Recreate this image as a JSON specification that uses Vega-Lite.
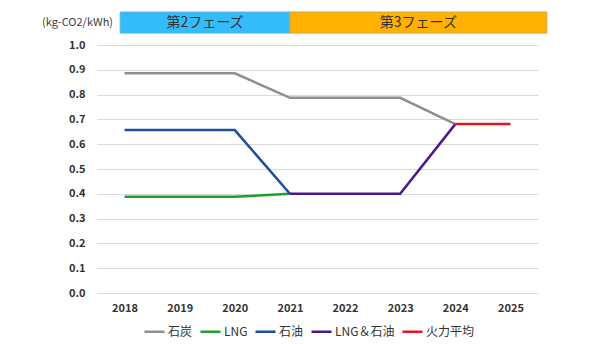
{
  "$schema": "https://vega.github.io/schema/vega-lite/v6.json",
  "width": 441,
  "height": 248,
  "autosize": {"type": "none"},
  "padding": {"left": 97, "top": 45, "right": 52, "bottom": 51},
  "background": "white",
  "config": {
    "view": {"stroke": null},
    "font": "Noto Sans CJK JP"
  },
  "datasets": {
    "lines": [
      {"year": 2018, "value": 0.886, "series": "石炭"},
      {"year": 2019, "value": 0.886, "series": "石炭"},
      {"year": 2020, "value": 0.886, "series": "石炭"},
      {"year": 2021, "value": 0.787, "series": "石炭"},
      {"year": 2022, "value": 0.787, "series": "石炭"},
      {"year": 2023, "value": 0.787, "series": "石炭"},
      {"year": 2024, "value": 0.681, "series": "石炭"},
      {"year": 2018, "value": 0.388, "series": "LNG"},
      {"year": 2019, "value": 0.388, "series": "LNG"},
      {"year": 2020, "value": 0.388, "series": "LNG"},
      {"year": 2021, "value": 0.400, "series": "LNG"},
      {"year": 2018, "value": 0.657, "series": "石油"},
      {"year": 2019, "value": 0.657, "series": "石油"},
      {"year": 2020, "value": 0.657, "series": "石油"},
      {"year": 2021, "value": 0.400, "series": "石油"},
      {"year": 2021, "value": 0.400, "series": "LNG＆石油"},
      {"year": 2022, "value": 0.400, "series": "LNG＆石油"},
      {"year": 2023, "value": 0.400, "series": "LNG＆石油"},
      {"year": 2024, "value": 0.681, "series": "LNG＆石油"},
      {"year": 2024, "value": 0.681, "series": "火力平均"},
      {"year": 2025, "value": 0.681, "series": "火力平均"}
    ],
    "phases": [
      {"phase": "第2フェーズ", "start": 2017.92, "end": 2021},
      {"phase": "第3フェーズ", "start": 2021, "end": 2025.66}
    ]
  },
  "layer": [
    {
      "data": {"name": "lines"},
      "mark": {"type": "line", "strokeWidth": 2.5, "clip": false},
      "encoding": {
        "x": {
          "field": "year",
          "type": "quantitative",
          "scale": {"domain": [2017.5, 2025.5], "nice": false, "zero": false},
          "axis": {
            "values": [2018, 2019, 2020, 2021, 2022, 2023, 2024, 2025],
            "tickCount": 8,
            "format": "d",
            "title": null,
            "grid": false,
            "domain": false,
            "ticks": false,
            "labelPadding": 9,
            "labelFontSize": 11,
            "labelFontWeight": "bold",
            "labelColor": "#333333"
          }
        },
        "y": {
          "field": "value",
          "type": "quantitative",
          "scale": {"domain": [0, 1], "nice": false},
          "axis": {
            "values": [0, 0.1, 0.2, 0.3, 0.4, 0.5, 0.6, 0.7, 0.8, 0.9, 1.0],
            "tickCount": 11,
            "labelOverlap": false,
            "format": ".1f",
            "title": "(kg-CO2/kWh)",
            "titleAngle": 0,
            "titleAlign": "center",
            "titleBaseline": "middle",
            "titleX": -20,
            "titleY": -23,
            "titleFontSize": 11,
            "titleFontWeight": "normal",
            "titleColor": "#404040",
            "grid": true,
            "gridColor": "#d9d9d9",
            "gridWidth": 1,
            "domain": false,
            "ticks": false,
            "labelPadding": 12,
            "labelFontSize": 11,
            "labelFontWeight": "bold",
            "labelColor": "#333333"
          }
        },
        "color": {
          "field": "series",
          "type": "nominal",
          "sort": ["石炭", "LNG", "石油", "LNG＆石油", "火力平均"],
          "scale": {
            "domain": ["石炭", "LNG", "石油", "LNG＆石油", "火力平均"],
            "range": ["#8f8f8f", "#1f9e2e", "#1f4e9f", "#4a1a8c", "#e8141c"]
          },
          "legend": {
            "title": null,
            "orient": "none",
            "direction": "horizontal",
            "legendX": 46,
            "legendY": 275,
            "symbolType": "stroke",
            "symbolSize": 400,
            "symbolStrokeWidth": 2.5,
            "labelFontSize": 12,
            "labelColor": "#333333",
            "labelOffset": 2,
            "columnPadding": 2
          }
        }
      }
    },
    {
      "data": {"name": "phases"},
      "mark": {"type": "rect", "clip": false, "strokeWidth": 1},
      "encoding": {
        "x": {"field": "start", "type": "quantitative"},
        "x2": {"field": "end"},
        "y": {"datum": 1.048},
        "y2": {"datum": 1.133},
        "fill": {
          "field": "phase",
          "type": "nominal",
          "scale": {"domain": ["第2フェーズ", "第3フェーズ"], "range": ["#33bbfa", "#ffb000"]},
          "legend": null
        },
        "stroke": {
          "field": "phase",
          "type": "nominal",
          "scale": {"domain": ["第2フェーズ", "第3フェーズ"], "range": ["#5cb8e6", "#d9a640"]},
          "legend": null
        }
      }
    },
    {
      "data": {"name": "phases"},
      "transform": [{"calculate": "(datum.start + datum.end) / 2", "as": "mid"}],
      "mark": {"type": "text", "clip": false, "fontSize": 14, "color": "#333333", "baseline": "middle"},
      "encoding": {
        "x": {"field": "mid", "type": "quantitative"},
        "y": {"datum": 1.09},
        "text": {"field": "phase"}
      }
    },
    {
      "mark": {"type": "rule", "color": "#999999", "strokeDash": [3, 3], "strokeWidth": 1, "clip": false},
      "encoding": {
        "x": {"datum": 2021},
        "y": {"datum": 0},
        "y2": {"datum": 1.048}
      }
    }
  ]
}
